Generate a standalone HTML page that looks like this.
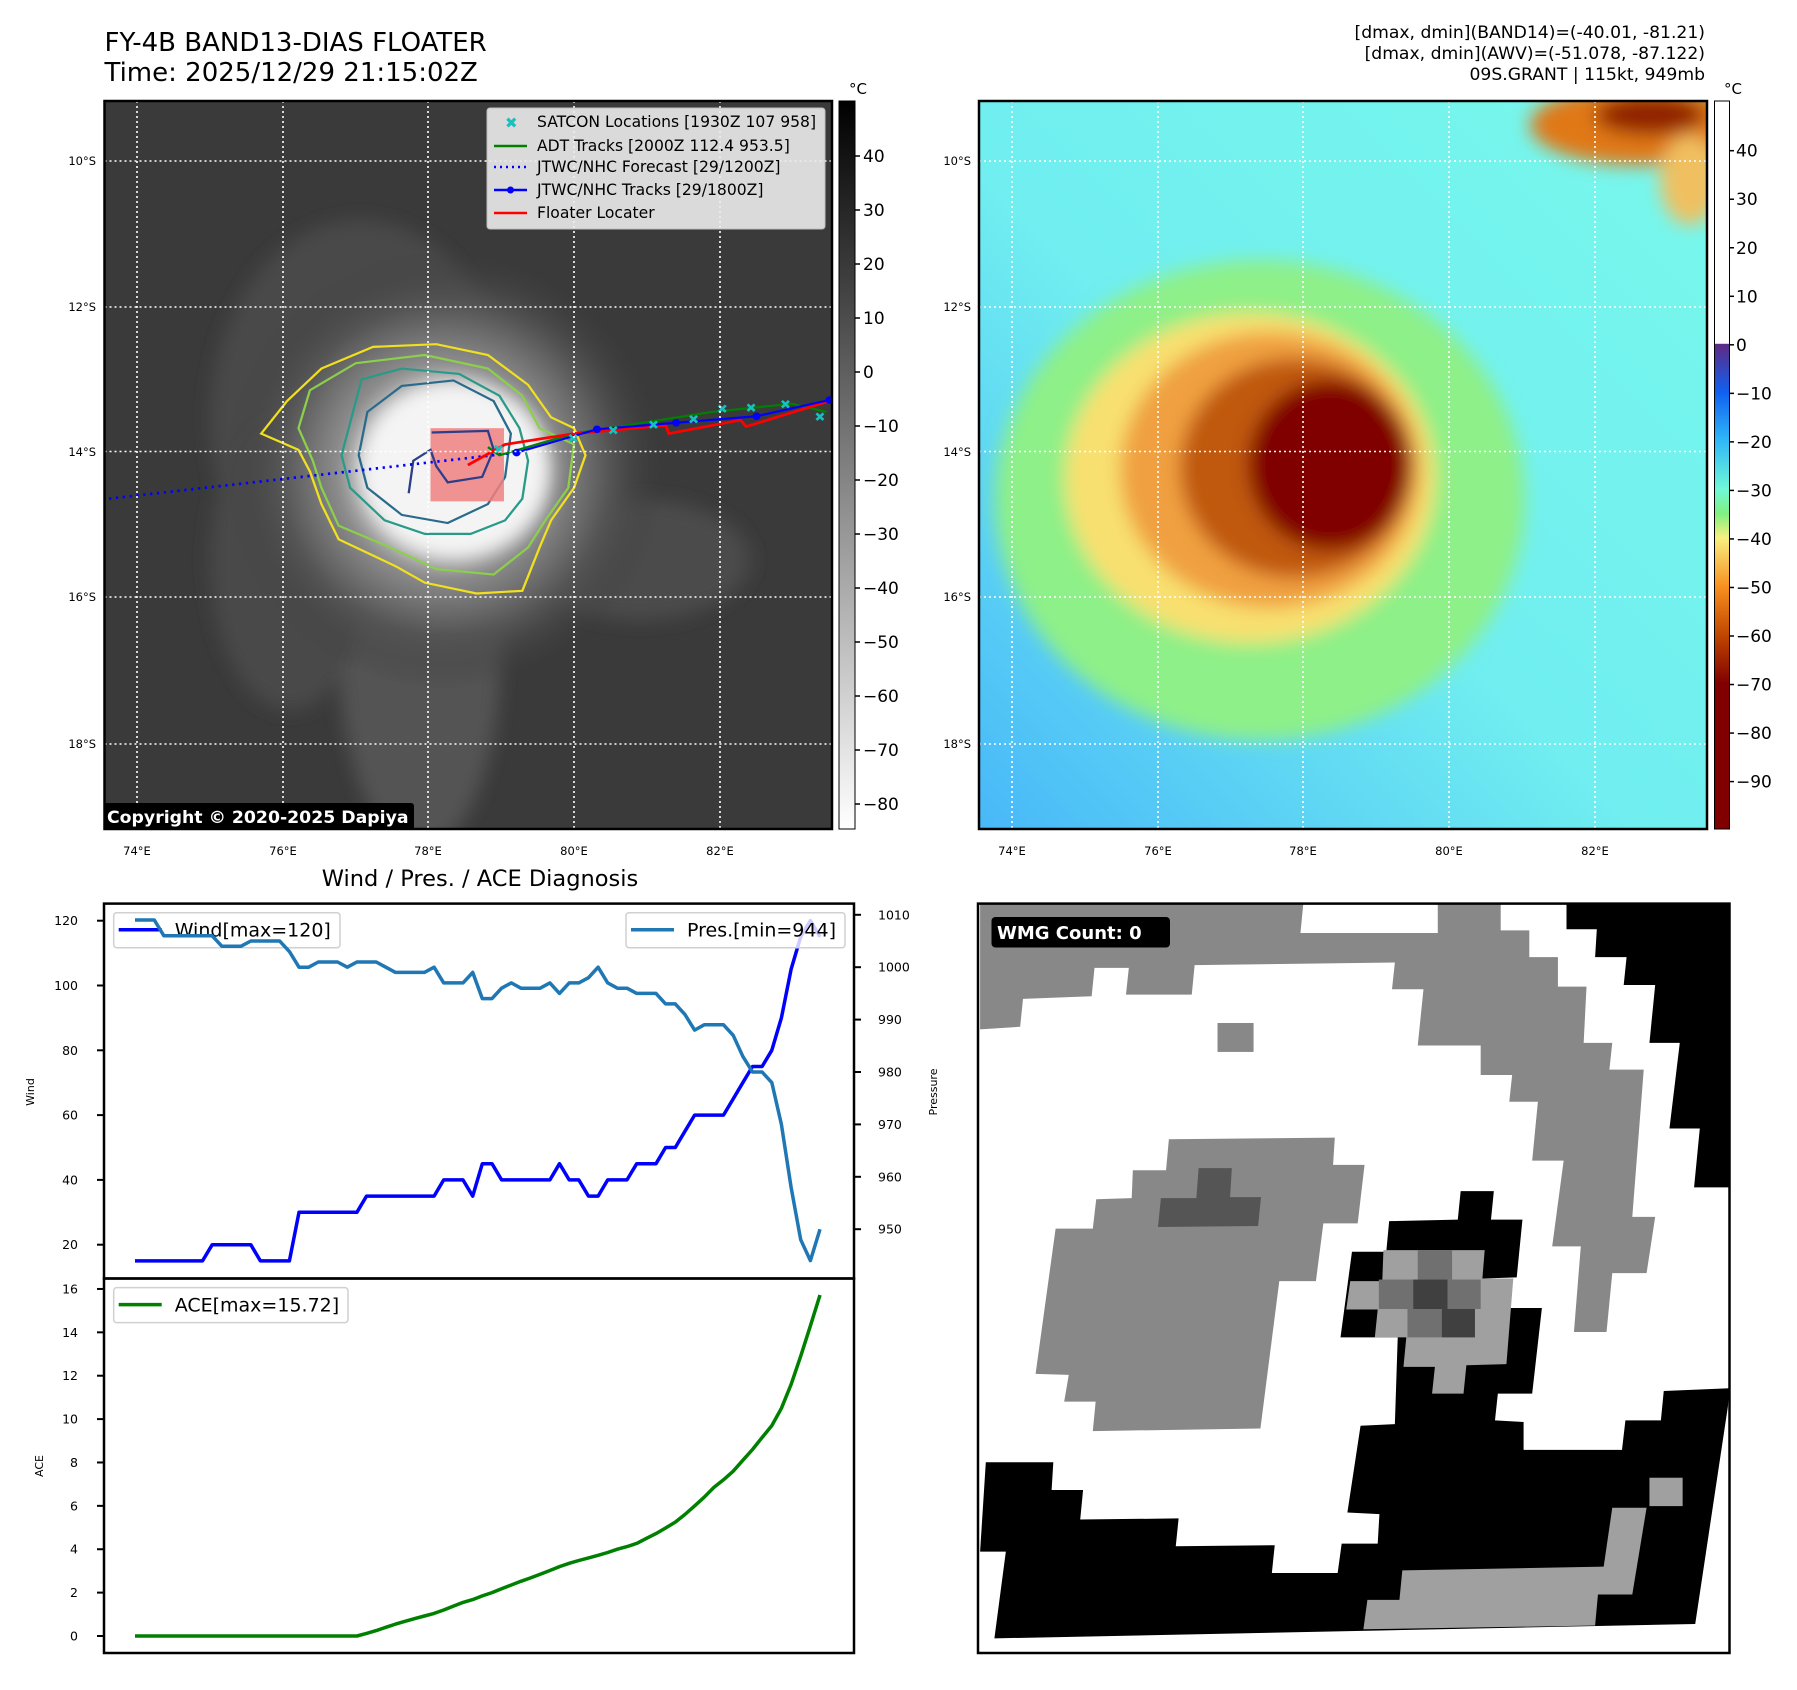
<!DOCTYPE html>
<html><head><meta charset="utf-8">
<style>
html,body{margin:0;padding:0;background:#fff;}
svg{display:block;font-family:"DejaVu Sans","Liberation Sans",sans-serif;}
</style></head>
<body>
<svg id="fig" width="1797" height="1690" viewBox="0 0 1797 1690" xmlns="http://www.w3.org/2000/svg">
<defs>
  <clipPath id="clipL"><rect x="104.5" y="101" width="727.5" height="728"/></clipPath>
  <clipPath id="clipR"><rect x="979" y="101" width="728" height="728"/></clipPath>
  <clipPath id="clipB"><rect x="978" y="903.6" width="751.5" height="749.4"/></clipPath>
  <filter id="blur8" x="-30%" y="-30%" width="160%" height="160%"><feGaussianBlur stdDeviation="9"/></filter>
  <filter id="blur4" x="-30%" y="-30%" width="160%" height="160%"><feGaussianBlur stdDeviation="4"/></filter>
  <radialGradient id="cloudHalo" cx="0.5" cy="0.5" r="0.5">
    <stop offset="0" stop-color="#f2f2f2"/><stop offset="0.3" stop-color="#d0d0d0"/>
    <stop offset="0.5" stop-color="#8a8a8a"/><stop offset="0.75" stop-color="#555"/><stop offset="1" stop-color="#3d3d3d" stop-opacity="0"/>
  </radialGradient>
  <linearGradient id="grayBar" x1="0" y1="0" x2="0" y2="1">
    <stop offset="0" stop-color="#000"/><stop offset="1" stop-color="#fff"/>
  </linearGradient>
  <linearGradient id="colorBar" x1="0" y1="0" x2="0" y2="1">
    <stop offset="0" stop-color="#fff"/><stop offset="0.333" stop-color="#fff"/>
    <stop offset="0.334" stop-color="#5e2a84"/><stop offset="0.4" stop-color="#1060f0"/>
    <stop offset="0.467" stop-color="#30b8f8"/><stop offset="0.533" stop-color="#70f8d8"/>
    <stop offset="0.567" stop-color="#80f080"/><stop offset="0.6" stop-color="#f8f080"/>
    <stop offset="0.667" stop-color="#f89020"/><stop offset="0.733" stop-color="#c04800"/>
    <stop offset="0.8" stop-color="#800000"/><stop offset="1" stop-color="#800000"/>
  </linearGradient>
  <linearGradient id="seaGrad" x1="1" y1="0" x2="0" y2="1">
    <stop offset="0" stop-color="#78f8ec"/><stop offset="0.55" stop-color="#70eef0"/><stop offset="1" stop-color="#48b8f8"/>
  </linearGradient>
</defs>

<!-- ================= LEFT MAP ================= -->
<text x="104.5" y="51" font-size="26">FY-4B BAND13-DIAS FLOATER</text>
<text x="104.5" y="81" font-size="26">Time: 2025/12/29 21:15:02Z</text>
<g clip-path="url(#clipL)">
  <rect x="104.5" y="101" width="727.5" height="728" fill="#3a3a3a"/>
  <g filter="url(#blur8)">
    <ellipse cx="360" cy="420" rx="150" ry="200" fill="#4e4e4e" opacity="0.8"/>
    <ellipse cx="420" cy="660" rx="80" ry="190" fill="#5a5a5a" opacity="0.8"/>
    <ellipse cx="640" cy="560" rx="110" ry="60" fill="#4c4c4c"/>
    <ellipse cx="290" cy="560" rx="80" ry="150" fill="#484848"/>
  </g>
  <circle cx="445" cy="470" r="220" fill="url(#cloudHalo)"/>
  <ellipse cx="455" cy="470" rx="95" ry="88" fill="#f4f4f4" filter="url(#blur8)"/>
  <g transform="scale(0.574,0.542)" fill="none" stroke-width="4">
    <path stroke="#f0e020" d="M455,800 L500,740 L560,680 L650,640 L760,635 L850,655 L920,710 L960,770 L1000,790 L1020,840 L1000,900 L960,960 L940,1010 L910,1090 L830,1095 L740,1075 L690,1045 L590,995 L560,930 L540,870 L520,830 Z"/>
    <path stroke="#8ccf4a" d="M540,720 L620,670 L740,655 L850,680 L910,730 L940,790 L1000,820 L990,900 L950,960 L920,1010 L860,1060 L760,1050 L680,1010 L590,970 L560,900 L545,850 L520,790 Z"/>
    <path stroke="#2a9a88" d="M630,700 L700,680 L800,690 L870,730 L905,790 L920,850 L910,920 L880,960 L820,985 L740,985 L670,960 L610,900 L595,840 L610,780 Z"/>
    <path stroke="#2a6a8a" d="M640,760 L700,712 L790,702 L860,740 L890,800 L880,880 L850,930 L780,965 L700,950 L640,900 L625,840 Z"/>
    <rect x="750" y="790" width="128" height="135" fill="#f08080" stroke="none" opacity="0.85"/>
    <path stroke="#2c3e8a" d="M752,798 L850,795 L860,830 L840,880 L780,890 L760,860 L750,830 L720,850 L712,910"/>
    <path stroke="#0000ff" stroke-width="5" stroke-dasharray="4,8" d="M190,920 L900,835"/>
    <path stroke="#008000" d="M850,825 L870,840 L1000,800 L1240,760 L1380,745 L1440,760"/>
    <path stroke="#ff0000" stroke-width="5" d="M815,858 L880,820 L1000,800 L1160,785 L1165,800 L1290,775 L1300,787 L1445,740"/>
    <path stroke="#0000ff" d="M900,835 L1040,792 L1178,780 L1318,768 L1445,738"/>
    <g fill="#0000ff" stroke="none">
      <circle cx="900" cy="835" r="7"/><circle cx="1040" cy="792" r="7"/><circle cx="1178" cy="780" r="7"/><circle cx="1318" cy="768" r="7"/><circle cx="1445" cy="738" r="7"/>
    </g>
    <g stroke="#18c0c0" stroke-width="3" font-size="20" fill="#18c0c0">
      <text x="990" y="815">×</text><text x="1060" y="800">×</text><text x="1130" y="790">×</text><text x="1200" y="780">×</text><text x="1250" y="760">×</text><text x="1300" y="758">×</text><text x="1360" y="752">×</text><text x="1420" y="775">×</text><text x="860" y="835">×</text>
    </g>
  </g>
  <g stroke="#fff" stroke-width="1.6" stroke-dasharray="2,3">
    <line x1="137" y1="101" x2="137" y2="829"/><line x1="283" y1="101" x2="283" y2="829"/><line x1="428" y1="101" x2="428" y2="829"/><line x1="574" y1="101" x2="574" y2="829"/><line x1="720" y1="101" x2="720" y2="829"/>
    <line x1="104.5" y1="161" x2="832" y2="161"/><line x1="104.5" y1="307" x2="832" y2="307"/><line x1="104.5" y1="451.5" x2="832" y2="451.5"/><line x1="104.5" y1="597" x2="832" y2="597"/><line x1="104.5" y1="744" x2="832" y2="744"/>
  </g>
  <g>
    <rect x="487" y="108" width="338" height="121" rx="3" fill="#ececec" opacity="0.9" stroke="#ccc"/>
    <text x="505" y="128" font-size="15" fill="#18c0c0" font-weight="bold">✖</text>
    <line x1="494" y1="146" x2="527" y2="146" stroke="#008000" stroke-width="2.5"/>
    <line x1="494" y1="167" x2="527" y2="167" stroke="#0000ff" stroke-width="2.5" stroke-dasharray="2,4"/>
    <line x1="494" y1="190" x2="527" y2="190" stroke="#0000ff" stroke-width="2.5"/><circle cx="510.5" cy="190" r="3.5" fill="#0000ff"/>
    <line x1="494" y1="213" x2="527" y2="213" stroke="#ff0000" stroke-width="2.5"/>
    <g font-size="15.6" fill="#000">
      <text x="537" y="127">SATCON Locations [1930Z 107 958]</text>
      <text x="537" y="151">ADT Tracks [2000Z 112.4 953.5]</text>
      <text x="537" y="172">JTWC/NHC Forecast [29/1200Z]</text>
      <text x="537" y="195">JTWC/NHC Tracks [29/1800Z]</text>
      <text x="537" y="218">Floater Locater</text>
    </g>
  </g>
  <rect x="102" y="803" width="312" height="27" rx="3" fill="#000"/>
  <text x="107" y="823" font-size="17.3" font-weight="bold" fill="#fff">Copyright © 2020-2025 Dapiya</text>
</g>
<rect x="104.5" y="101" width="727.5" height="728" fill="none" stroke="#000" stroke-width="2.5"/>
<g font-size="11.5" text-anchor="end">
  <text x="96" y="165">10°S</text><text x="96" y="311">12°S</text><text x="96" y="456">14°S</text><text x="96" y="601">16°S</text><text x="96" y="748">18°S</text>
</g>
<g font-size="11.5" text-anchor="middle">
  <text x="137" y="855">74°E</text><text x="283" y="855">76°E</text><text x="428" y="855">78°E</text><text x="574" y="855">80°E</text><text x="720" y="855">82°E</text>
</g>
<g>
  <rect x="839" y="101" width="16" height="728" fill="url(#grayBar)" stroke="#000" stroke-width="1"/>
  <text x="849" y="94" font-size="15">°C</text>
  <g id="lcbTicks" font-size="17"></g>
</g>

<!-- ================= RIGHT MAP ================= -->
<g font-size="17.2" text-anchor="end">
  <text x="1705" y="38">[dmax, dmin](BAND14)=(-40.01, -81.21)</text>
  <text x="1705" y="59">[dmax, dmin](AWV)=(-51.078, -87.122)</text>
  <text x="1705" y="80">09S.GRANT | 115kt, 949mb</text>
</g>
<g clip-path="url(#clipR)">
  <rect x="979" y="101" width="728" height="728" fill="url(#seaGrad)"/>
  <g filter="url(#blur8)">
    <ellipse cx="1260" cy="500" rx="265" ry="240" fill="#8ef088"/>
    <ellipse cx="1250" cy="478" rx="185" ry="165" fill="#f8e070"/>
    <ellipse cx="1270" cy="470" rx="150" ry="138" fill="#f0a040"/>
    <ellipse cx="1295" cy="468" rx="115" ry="110" fill="#c05810"/>
    <ellipse cx="1330" cy="465" rx="82" ry="85" fill="#800000"/>
    <ellipse cx="1640" cy="125" rx="110" ry="40" fill="#e07818"/>
    <ellipse cx="1650" cy="115" rx="55" ry="20" fill="#902000"/>
    <ellipse cx="1690" cy="180" rx="30" ry="45" fill="#f0c060"/>
  </g>
  <g stroke="#fff" stroke-width="1.6" stroke-dasharray="2,3">
    <line x1="1012" y1="101" x2="1012" y2="829"/><line x1="1158" y1="101" x2="1158" y2="829"/><line x1="1303" y1="101" x2="1303" y2="829"/><line x1="1449" y1="101" x2="1449" y2="829"/><line x1="1595" y1="101" x2="1595" y2="829"/>
    <line x1="979" y1="161" x2="1707" y2="161"/><line x1="979" y1="307" x2="1707" y2="307"/><line x1="979" y1="451.5" x2="1707" y2="451.5"/><line x1="979" y1="597" x2="1707" y2="597"/><line x1="979" y1="744" x2="1707" y2="744"/>
  </g>
</g>
<rect x="979" y="101" width="728" height="728" fill="none" stroke="#000" stroke-width="2.5"/>
<g font-size="11.5" text-anchor="end">
  <text x="971" y="165">10°S</text><text x="971" y="311">12°S</text><text x="971" y="456">14°S</text><text x="971" y="601">16°S</text><text x="971" y="748">18°S</text>
</g>
<g font-size="11.5" text-anchor="middle">
  <text x="1012" y="855">74°E</text><text x="1158" y="855">76°E</text><text x="1303" y="855">78°E</text><text x="1449" y="855">80°E</text><text x="1595" y="855">82°E</text>
</g>
<g>
  <rect x="1714.5" y="101" width="15" height="728" fill="url(#colorBar)" stroke="#000" stroke-width="1"/>
  <text x="1724" y="94" font-size="15">°C</text>
  <g id="rcbTicks" font-size="17"></g>
</g>

<!-- ================= WMG PANEL ================= -->
<g clip-path="url(#clipB)">
  <rect x="978" y="903.6" width="751.5" height="749.4" fill="#fff"/>
  <g transform="translate(900,850) scale(0.5721,0.5356)" stroke="none">
    <path fill="#888" d="M140,100 L705,100 L700,155 L940,155 L940,100 L1050,100 L1050,150 L1100,150 L1100,200 L1150,200 L1150,255 L1200,255 L1195,360 L1245,360 L1240,410 L1300,410 L1280,685 L1320,685 L1305,790 L1245,790 L1235,900 L1178,900 L1190,740 L1140,740 L1160,580 L1105,580 L1115,470 L1065,470 L1070,420 L1015,420 L1015,365 L905,365 L915,260 L860,260 L865,210 L515,215 L510,270 L395,270 L400,220 L340,220 L335,273 L215,278 L210,330 L140,335 Z"/>
    <rect fill="#888" x="555" y="323" width="63" height="54"/>
    <path fill="#888" d="M470,540 L760,537 L757,588 L812,588 L800,697 L740,697 L727,805 L663,805 L630,1080 L337,1085 L342,1030 L287,1030 L295,980 L237,978 L272,707 L337,707 L343,652 L405,650 L407,598 L465,598 Z"/>
    <path fill="#555" d="M522,594 L580,594 L577,648 L631,648 L626,702 L451,704 L456,650 L518,650 Z"/>
    <path fill="#000" d="M1165,100 L1450,100 L1450,630 L1388,630 L1398,520 L1345,520 L1363,360 L1310,360 L1320,252 L1265,252 L1270,200 L1215,200 L1218,148 L1165,148 Z"/>
    <path fill="#000" d="M855,693 L975,690 L980,637 L1038,637 L1033,690 L1088,690 L1078,798 L1020,800 L1015,855 L1122,855 L1105,1015 L1045,1015 L1040,1065 L1090,1068 L1090,1120 L1262,1120 L1268,1065 L1330,1065 L1335,1010 L1450,1005 L1447,1040 L1390,1445 L165,1472 L185,1310 L140,1310 L150,1143 L268,1143 L265,1195 L320,1195 L315,1250 L487,1248 L482,1300 L655,1298 L650,1350 L765,1350 L772,1295 L835,1295 L838,1240 L782,1237 L805,1075 L865,1072 L870,910 L770,910 L790,750 L850,750 Z"/>
    <path fill="#a0a0a0" d="M845,747 L1022,747 L1018,800 L1072,800 L1060,960 L990,962 L985,1015 L930,1015 L935,965 L880,965 L885,910 L830,910 L835,858 L780,858 L787,805 L843,805 Z"/>
    <g fill="#707070"><rect x="905" y="747" width="60" height="55"/><rect x="837" y="802" width="60" height="55"/><rect x="955" y="802" width="60" height="55"/><rect x="887" y="857" width="60" height="53"/></g>
    <g fill="#404040"><rect x="897" y="802" width="60" height="55"/><rect x="947" y="857" width="58" height="53"/></g>
    <path fill="#a0a0a0" d="M878,1345 L1230,1338 L1245,1228 L1305,1228 L1280,1390 L1220,1390 L1215,1448 L810,1455 L817,1400 L873,1400 Z"/>
    <rect fill="#a0a0a0" x="1310" y="1172" width="58" height="53"/>
  </g>
  <rect x="991.5" y="917" width="178.5" height="30.5" rx="4" fill="#000"/>
  <text x="997" y="939" font-size="18" font-weight="bold" fill="#fff">WMG Count: 0</text>
</g>
<rect x="978" y="903.6" width="751.5" height="749.4" fill="none" stroke="#000" stroke-width="2.5"/>

<!-- ================= DIAGNOSIS CHART ================= -->
<text x="480" y="886" font-size="22.5" text-anchor="middle">Wind / Pres. / ACE Diagnosis</text>
<text transform="translate(34,1092) rotate(-90)" font-size="11" text-anchor="middle">Wind</text>
<text transform="translate(43,1466) rotate(-90)" font-size="11" text-anchor="middle">ACE</text>
<text transform="translate(937,1092) rotate(-90)" font-size="11" text-anchor="middle">Pressure</text>
<g id="chart"></g>
<rect x="104" y="903.6" width="750" height="374.9" fill="none" stroke="#000" stroke-width="2.5"/>
<rect x="104" y="1278.5" width="750" height="374.5" fill="none" stroke="#000" stroke-width="2.5"/>
</svg>

<script>
const windValues = [15,15,15,15,15,15,15,15,20,20,20,20,20,15,15,15,15,30,30,30,30,30,30,30,35,35,35,35,35,35,35,35,40,40,40,35,45,45,40,40,40,40,40,40,45,40,40,35,35,40,40,40,45,45,45,50,50,55,60,60,60,60,65,70,75,75,80,90,105,115,120,115];
const pressureValues = [1009,1009,1009,1006,1006,1006,1006,1006,1006,1004,1004,1004,1005,1005,1005,1005,1003,1000,1000,1001,1001,1001,1000,1001,1001,1001,1000,999,999,999,999,1000,997,997,997,999,994,994,996,997,996,996,996,997,995,997,997,998,1000,997,996,996,995,995,995,993,993,991,988,989,989,989,987,983,980,980,978,970,958,948,944,950];
const aceValues = [0,0,0,0,0,0,0,0,0,0,0,0,0,0,0,0,0,0,0,0,0,0,0,0,0.12,0.25,0.4,0.55,0.68,0.8,0.92,1.04,1.2,1.38,1.55,1.68,1.85,2.0,2.18,2.35,2.52,2.68,2.85,3.02,3.2,3.35,3.48,3.6,3.72,3.85,4.0,4.12,4.27,4.5,4.72,4.98,5.25,5.6,6.0,6.4,6.85,7.2,7.6,8.1,8.6,9.15,9.7,10.5,11.6,12.9,14.3,15.72];
const windTicks = [20,40,60,80,100,120];
const pressureTicks = [950,960,970,980,990,1000,1010];
const aceTicks = [0,2,4,6,8,10,12,14,16];
const leftCbTicks = [40,30,20,10,0,-10,-20,-30,-40,-50,-60,-70,-80];
const rightCbTicks = [40,30,20,10,0,-10,-20,-30,-40,-50,-60,-70,-80,-90];

const NS = 'http://www.w3.org/2000/svg';
function xS(i){ return 135 + i * (820 - 135) / (windValues.length - 1); }
function yW(v){ return 920.7 + (120 - v) * 3.24; }
function yP(v){ return 914.8 + (1010 - v) * 5.24; }
function yA(v){ return 1636 - v * 21.69; }
function yLcb(v){ return 156 + (40 - v) * 5.4; }
function yRcb(v){ return 150.7 + (40 - v) * 4.853; }
function mk(tag, attrs, parent){
  const e = document.createElementNS(NS, tag);
  for (const k in attrs) e.setAttribute(k, attrs[k]);
  parent.appendChild(e);
  return e;
}
function fmt(v){ return v < 0 ? '\u2212' + Math.abs(v) : String(v); }

const chart = document.getElementById('chart');

windTicks.forEach(v => {
  const t = mk('line', {x1:97, x2:104, y1:yW(v), y2:yW(v), stroke:'#000', 'stroke-width':2}, chart);
  
  
  const l = mk('text', {x:78, y:yW(v)+4.5, 'font-size':12.5, 'text-anchor':'end'}, chart);
  l.textContent = v;
  
  
});
pressureTicks.forEach(v => {
  const t = mk('line', {x1:854, x2:861, y1:yP(v), y2:yP(v), stroke:'#000', 'stroke-width':2}, chart);
  
  
  const l = mk('text', {x:878, y:yP(v)+4.5, 'font-size':12.5}, chart);
  l.textContent = v;
  
  
});
aceTicks.forEach(v => {
  const t = mk('line', {x1:97, x2:104, y1:yA(v), y2:yA(v), stroke:'#000', 'stroke-width':2}, chart);
  
  
  const l = mk('text', {x:78, y:yA(v)+4.5, 'font-size':12.5, 'text-anchor':'end'}, chart);
  l.textContent = v;
  
  
});

function pathFrom(arr, yf){
  return arr.map((v,i) => (i ? 'L' : 'M') + xS(i).toFixed(1) + ',' + yf(v).toFixed(1)).join(' ');
}
function legend(x, y, w, color, label, name){
  const g = mk('g', {}, chart);
  
  
  mk('rect', {x:x, y:y, width:w, height:35, rx:3, fill:'#fff', 'fill-opacity':0.8, stroke:'#d0d0d0', 'stroke-width':1.5}, g);
  mk('line', {x1:x+5, x2:x+48, y1:y+17, y2:y+17, stroke:color, 'stroke-width':3.5}, g);
  const t = mk('text', {x:x+61, y:y+24, 'font-size':19}, g);
  t.textContent = label;
}

const windLine = mk('path', {d:pathFrom(windValues, yW), fill:'none', stroke:'#0000ff', 'stroke-width':3.5, 'stroke-linejoin':'round'}, chart);


legend(113.7, 912.7, 226.3, '#0000ff', 'Wind[max=120]', 'wind-legend');

const presLine = mk('path', {d:pathFrom(pressureValues, yP), fill:'none', stroke:'#1f77b4', 'stroke-width':3.5, 'stroke-linejoin':'round'}, chart);


legend(626, 912.7, 219, '#1f77b4', 'Pres.[min=944]', 'pressure-legend');

const aceLine = mk('path', {d:pathFrom(aceValues, yA), fill:'none', stroke:'#008000', 'stroke-width':3.5, 'stroke-linejoin':'round'}, chart);


legend(113.7, 1287.6, 234.3, '#008000', 'ACE[max=15.72]', 'ace-legend');

const lcb = document.getElementById('lcbTicks');
leftCbTicks.forEach(v => {
  const t = mk('line', {x1:855, x2:860, y1:yLcb(v), y2:yLcb(v), stroke:'#000', 'stroke-width':1.5}, lcb);
  
  
  const l = mk('text', {x:863, y:yLcb(v)+6}, lcb);
  l.textContent = fmt(v);
  
  
});
const rcb = document.getElementById('rcbTicks');
rightCbTicks.forEach(v => {
  const t = mk('line', {x1:1729.5, x2:1734, y1:yRcb(v), y2:yRcb(v), stroke:'#000', 'stroke-width':1.5}, rcb);
  
  
  const l = mk('text', {x:1736, y:yRcb(v)+6}, rcb);
  l.textContent = fmt(v);
  
  
});
</script>
</body></html>
